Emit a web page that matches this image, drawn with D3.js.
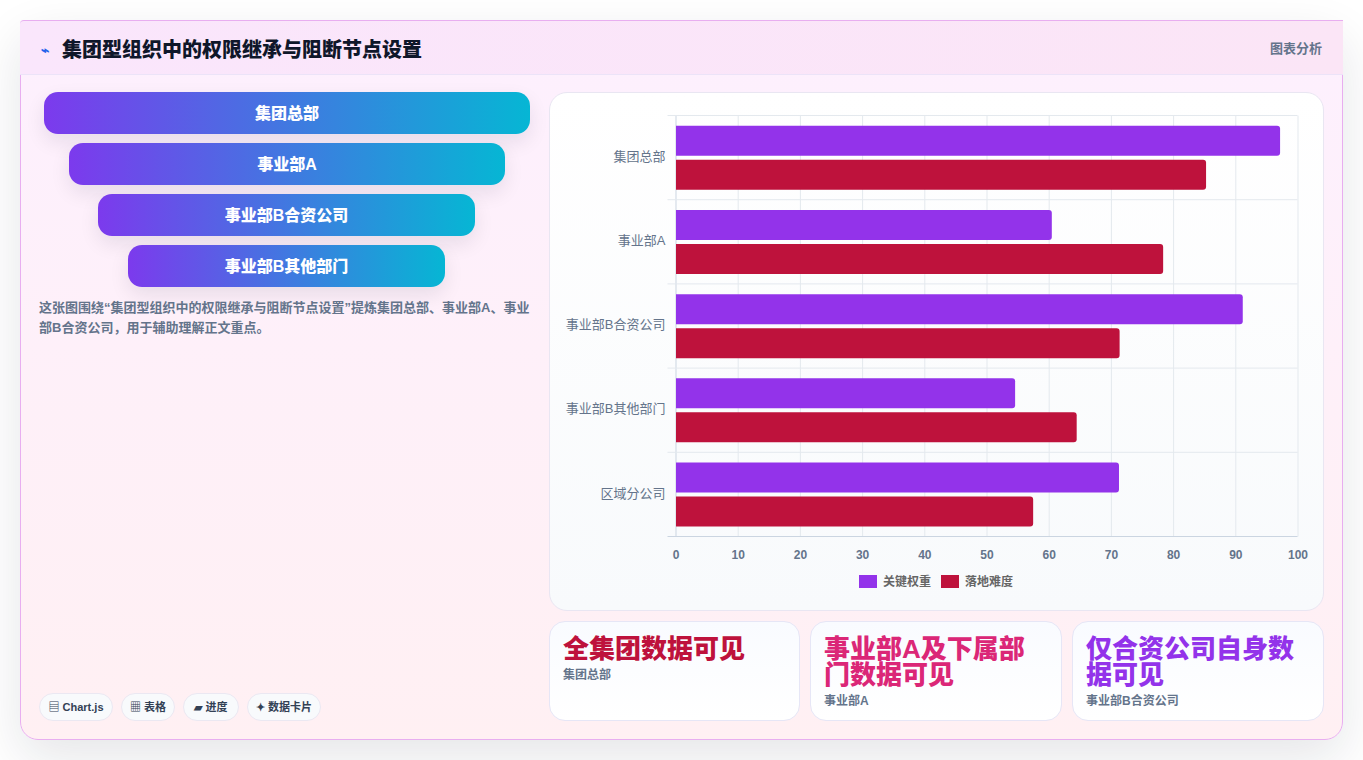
<!DOCTYPE html>
<html lang="zh-CN">
<head>
<meta charset="utf-8">
<title>集团型组织中的权限继承与阻断节点设置</title>
<script src="https://cdn.jsdelivr.net/npm/d3@7"></script>
<style>
*{box-sizing:border-box;margin:0;padding:0}
html,body{width:1363px;height:760px;overflow:hidden;background:#fff;font-family:"Liberation Sans","Noto Sans CJK SC",sans-serif}
#board{position:absolute;left:20px;top:20px;width:1323px;height:720px;border:1px solid #e8aef0;border-radius:18px;background:linear-gradient(180deg,#fdf0fe 0%,#fff0f3 100%);box-shadow:0 18px 50px rgba(15,23,42,.11)}
#head{position:absolute;left:-1px;top:0;width:1323px;height:55px;background:linear-gradient(90deg,#fae6fc,#fbe5f6);border-bottom:1px solid #ece3f8;border-top:1px solid #e8aef0;border-top-left-radius:4px;margin-top:-1px}
#icon{position:absolute;left:21px;top:19px;font-size:14px;line-height:20px;color:#2563eb;font-weight:700}
#title{position:absolute;left:42px;top:15px;font-size:20px;line-height:29px;font-weight:900;color:#0f172a}
#tag{position:absolute;right:21px;top:18px;font-size:13px;line-height:20px;font-weight:700;color:#64748b}
.step{position:absolute;height:42px;border-radius:14px;background:linear-gradient(90deg,#7c3aed,#06b6d4);color:#fff;font-weight:900;font-size:16px;line-height:43px;text-align:center;box-shadow:0 8px 20px rgba(15,23,42,.09)}
#note{position:absolute;left:18px;top:277px;width:492px;font-size:13px;line-height:20px;font-weight:700;color:#64748b}
.pill{position:absolute;top:672px;height:28px;border-radius:14px;border:1px solid #ebe8f2;background:#f8fafc;font-size:11px;line-height:26px;font-weight:700;color:#334155;text-align:center;white-space:nowrap}
#plotcard{position:absolute;left:528px;top:71px;width:775px;height:519px;border:1px solid #e9e6f2;border-radius:18px;background:linear-gradient(180deg,#fff,#f8fafc)}
#plot{position:absolute;left:529px;top:72px}
.kpi{position:absolute;top:600px;height:100px;border:1px solid #e6e6f6;border-radius:16px;background:linear-gradient(180deg,#f9fbff,#fff);padding:14px 13px 0}
.kpi b{display:block;font-size:26px;line-height:26px;font-weight:900}
.kpi span{display:block;margin-top:5px;font-size:12px;line-height:17px;font-weight:700;color:#64748b}
</style>
</head>
<body>
<div id="board">
  <div id="head">
    <div id="icon">⌁</div>
    <div id="title">集团型组织中的权限继承与阻断节点设置</div>
    <div id="tag">图表分析</div>
  </div>
  <div id="steps"></div>
  <div id="note">这张图围绕“集团型组织中的权限继承与阻断节点设置”提炼集团总部、事业部A、事业部B合资公司，用于辅助理解正文重点。</div>
  <div id="pills"></div>
  <div id="plotcard"></div>
  <svg id="plot" width="774" height="518"></svg>
  <div id="kpis"></div>
</div>
<script>
// Chart data
const categories = ["集团总部", "事业部A", "事业部B合资公司", "事业部B其他部门", "区域分公司"];
const seriesNames = ["关键权重", "落地难度"];
const keyWeight = [97.2, 60.5, 91.2, 54.6, 71.3];
const difficulty = [85.3, 78.4, 71.4, 64.5, 57.5];
const seriesColors = ["#9333ea", "#be123c"];
const xTicks = [0, 10, 20, 30, 40, 50, 60, 70, 80, 90, 100];

// Funnel steps and their horizontal extents inside the board
const stepLabels = ["集团总部", "事业部A", "事业部B合资公司", "事业部B其他部门"];
const stepLeft = [23, 48, 77, 107];
const stepWidth = [486, 436, 377, 317];
const stepTop = [71, 122, 173, 224];

// Footer pills
const pillLabels = ["▤ Chart.js", "▦ 表格", "▰ 进度", "✦ 数据卡片"];
const pillLeft = [18, 100, 162, 226];
const pillWidth = [74, 54, 56, 74];

// Summary cards
const kpiTitles = ["全集团数据可见", "事业部A及下属部门数据可见", "仅合资公司自身数据可见"];
const kpiLabels = ["集团总部", "事业部A", "事业部B合资公司"];
const kpiColors = ["#be123c", "#db2777", "#9333ea"];
const kpiLeft = [528, 789, 1051];
const kpiWidth = [251, 252, 252];

d3.select("#steps").selectAll("div").data(stepLabels).join("div")
  .attr("class", "step")
  .style("left", (d, i) => stepLeft[i] + "px")
  .style("top", (d, i) => stepTop[i] + "px")
  .style("width", (d, i) => stepWidth[i] + "px")
  .text(d => d);

d3.select("#pills").selectAll("div").data(pillLabels).join("div")
  .attr("class", "pill")
  .style("left", (d, i) => pillLeft[i] + "px")
  .style("width", (d, i) => pillWidth[i] + "px")
  .text(d => d);

const kpi = d3.select("#kpis").selectAll("div").data(kpiTitles).join("div")
  .attr("class", "kpi")
  .style("left", (d, i) => kpiLeft[i] + "px")
  .style("width", (d, i) => kpiWidth[i] + "px");
kpi.append("b").style("color", (d, i) => kpiColors[i]).text(d => d);
kpi.append("span").text((d, i) => kpiLabels[i]);

// Grouped horizontal bars
const svg = d3.select("#plot");
const plotBox = {left: 125.5, right: 747.5, top: 22.5, bottom: 443.5};
const x = d3.scaleLinear().domain([0, 100]).range([plotBox.left, plotBox.right]);
const y = d3.scaleBand().domain(categories).range([plotBox.top, plotBox.bottom]);
const inner = d3.scaleBand().domain(seriesNames)
  .range([y.bandwidth() * 0.122, y.bandwidth() * 0.882]).paddingInner(0.118);

// Axes drawn with d3, then styled as a light grid
const gridX = svg.append("g").attr("transform", `translate(0,${plotBox.bottom})`)
  .call(d3.axisBottom(x).tickValues(xTicks).tickSize(plotBox.top - plotBox.bottom).tickFormat(""));
gridX.select(".domain").remove();
gridX.selectAll("line").attr("stroke", d => d === 0 ? "#cbd5e1" : "#e4e9ee");

const ySplits = categories.map(c => y(c)).concat(plotBox.bottom);
svg.append("g").selectAll("line").data(ySplits).join("line")
  .attr("x1", plotBox.left - 8).attr("x2", plotBox.right)
  .attr("y1", d => d).attr("y2", d => d)
  .attr("stroke", (d, i) => i === categories.length ? "#cbd5e1" : "#e4e9ee");

const xAxis = svg.append("g").attr("transform", `translate(0,${plotBox.bottom})`)
  .call(d3.axisBottom(x).tickValues(xTicks).tickSize(0).tickPadding(14));
xAxis.select(".domain").remove();
xAxis.selectAll("text").attr("fill", "#64748b")
  .style("font", '700 12px "Liberation Sans",sans-serif');

const yAxis = svg.append("g").attr("transform", `translate(${plotBox.left},-1)`)
  .call(d3.axisLeft(y).tickSize(0).tickPadding(10));
yAxis.select(".domain").remove();
yAxis.selectAll("text").attr("fill", "#64748b")
  .style("font", '400 13px "Liberation Sans","Noto Sans CJK SC",sans-serif');

// Rectangle with rounded corners on the value end only
function barPath(x0, x1, top, h, r) {
  const p = d3.path();
  p.moveTo(x0, top);
  p.lineTo(x1 - r, top);
  p.arcTo(x1, top, x1, top + r, r);
  p.lineTo(x1, top + h - r);
  p.arcTo(x1, top + h, x1 - r, top + h, r);
  p.lineTo(x0, top + h);
  p.closePath();
  return p.toString();
}

[keyWeight, difficulty].forEach((values, s) => {
  svg.append("g").selectAll("path").data(values).join("path")
    .attr("d", (v, i) => barPath(x(0) + 0.5, x(v), y(categories[i]) + inner(seriesNames[s]), inner.bandwidth(), 3))
    .attr("fill", seriesColors[s]);
});

// Legend
const legendSwatchX = [309, 391];
const legendY = 482;
const legend = svg.append("g").selectAll("g").data(seriesNames).join("g")
  .attr("transform", (d, i) => `translate(${legendSwatchX[i]},${legendY})`);
legend.append("rect").attr("width", 18).attr("height", 13).attr("fill", (d, i) => seriesColors[i]);
legend.append("text").attr("x", 24).attr("y", 6.5).attr("dy", "0.35em")
  .attr("fill", "#666").style("font", '700 12px "Liberation Sans","Noto Sans CJK SC",sans-serif')
  .text(d => d);
</script>
</body>
</html>
